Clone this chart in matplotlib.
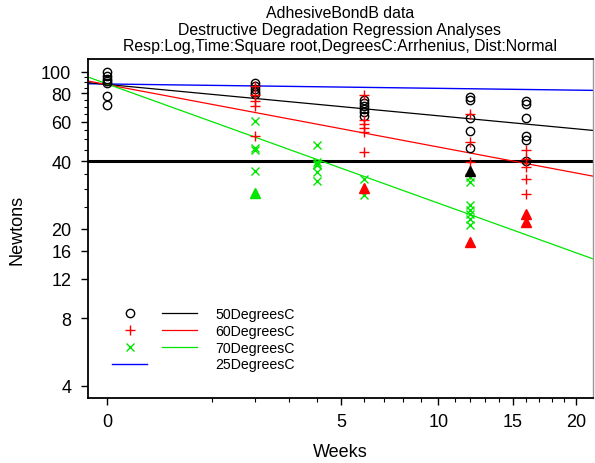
import numpy as np
import matplotlib
matplotlib.use("Agg")
import matplotlib.pyplot as plt
from matplotlib.lines import Line2D
from matplotlib.legend_handler import HandlerTuple

plt.rcParams["font.family"] = ["Liberation Sans", "DejaVu Sans"]

# axis range (weeks on square-root scale, newtons on log scale)
X_RANGE = [-0.033, 21.5]
Y_RANGE = [3.535, 113.9]

# week-0 measurements (plotted with the 50C circles)
weeks_50 = [0] * 7 + [2] * 5 + [6] * 6 + [12] * 5 + [16] * 6
newtons_50 = [100, 95.5, 92.5, 90.5, 89, 78, 71,
              89.5, 86.3, 83.8, 81.3, 79.6,
              74.8, 72.6, 70.4, 68.3, 66.2, 63.6,
              76.8, 74.5, 62.3, 54.5, 45.8,
              74.1, 71.9, 62.3, 51.8, 49.7, 39.9]

weeks_60 = [2] * 5 + [6] * 6 + [12] * 4 + [16] * 5
newtons_60 = [86.8, 78.8, 74.0, 70.5, 51.8,
              78.8, 61.0, 58.6, 56.2, 54.0, 44.0,
              64.9, 48.7, 39.7, 35.1,
              44.9, 40.9, 37.7, 33.4, 28.6]

weeks_70 = [2] * 4 + [4] * 6 + [6] * 2 + [12] * 7
newtons_70 = [60.4, 45.8, 44.8, 36.2,
              47.4, 39.8, 39.0, 38.5, 35.7, 32.8,
              33.4, 28.3,
              34.0, 32.3, 25.4, 24.3, 23.3, 22.1, 20.8]

# filled triangles
tri_weeks_50 = [12]
tri_newtons_50 = [36.0]
tri_weeks_60 = [6, 12, 16, 16]
tri_newtons_60 = [30.3, 17.4, 23.3, 21.5]
tri_weeks_70 = [2]
tri_newtons_70 = [28.9]

# fitted lines, values at the two ends of the x range
fit_50 = [89.4, 54.8]
fit_60 = [90.9, 34.3]
fit_70 = [94.7, 14.7]
fit_25 = [88.4, 82.6]

x_major = [0, 5, 10, 15, 20]
x_minor = [1, 2, 3, 4, 6, 7, 8, 9, 11, 12, 13, 14, 16, 17, 18, 19]
y_major = [4, 8, 12, 16, 20, 40, 60, 80, 100]
y_minor = [25, 30, 35, 45, 50, 55, 65, 70, 75, 85, 90, 95]

BLACK = "#000000"
RED = "#ff0000"
GREEN = "#00e600"
BLUE = "#0000ff"


def fwd(x):
    x = np.asarray(x, dtype=float)
    return np.sign(x) * np.sqrt(np.abs(x))


def inv(y):
    y = np.asarray(y, dtype=float)
    return np.sign(y) * y ** 2


fig = plt.figure(figsize=(5.95, 4.64), dpi=100)
ax = fig.add_axes([88 / 595, 1 - 399 / 464, 505 / 595, 339 / 464])
ax.set_xscale("function", functions=(fwd, inv))
ax.set_yscale("log")

ax.axhline(40, color="black", lw=2.2, zorder=1)
ax.plot(X_RANGE, fit_25, color=BLUE, lw=1.0, zorder=2)
ax.plot(X_RANGE, fit_50, color=BLACK, lw=0.9, zorder=2)
ax.plot(X_RANGE, fit_60, color=RED, lw=0.9, zorder=2)
ax.plot(X_RANGE, fit_70, color=GREEN, lw=0.9, zorder=2)

ax.plot(weeks_50, newtons_50, ls="none", marker="o", ms=6, mfc="none", mec=BLACK, mew=1.0, zorder=3)
ax.plot(weeks_60, newtons_60, ls="none", marker="+", ms=7, mec=RED, mew=1.0, zorder=3)
ax.plot(weeks_70, newtons_70, ls="none", marker="x", ms=6, mec=GREEN, mew=1.0, zorder=3)
ax.plot(tri_weeks_50, tri_newtons_50, ls="none", marker="^", ms=7.5, color=BLACK, zorder=4)
ax.plot(tri_weeks_60, tri_newtons_60, ls="none", marker="^", ms=7.5, color=RED, zorder=4)
ax.plot(tri_weeks_70, tri_newtons_70, ls="none", marker="^", ms=7.5, color=GREEN, zorder=4)

ax.set_xlim(X_RANGE)
ax.set_ylim(Y_RANGE)
ax.set_xticks(x_major)
ax.set_xticklabels([str(v) for v in x_major])
ax.set_xticks(x_minor, minor=True)
ax.set_yticks(y_major)
ax.set_yticklabels([str(v) for v in y_major])
ax.set_yticks(y_minor, minor=True)
ax.yaxis.set_minor_formatter(matplotlib.ticker.NullFormatter())
ax.tick_params(axis="both", which="major", length=5, width=1.0, labelsize=13, direction="out")
ax.tick_params(axis="both", which="minor", length=3, width=0.8, direction="out")
ax.tick_params(axis="x", pad=6)
ax.tick_params(axis="y", pad=7)

for side in ["left", "bottom", "top"]:
    ax.spines[side].set_linewidth(1.3)
    ax.spines[side].set_color("black")
ax.spines["right"].set_color("#999999")
ax.spines["right"].set_linewidth(1.0)

ax.set_xlabel("Weeks", fontsize=13, labelpad=9)
ax.set_ylabel("Newtons", fontsize=13, labelpad=11)

titles = ["AdhesiveBondB data",
          "Destructive Degradation Regression Analyses",
          "Resp:Log,Time:Square root,DegreesC:Arrhenius, Dist:Normal"]
for i, line in enumerate(titles):
    fig.text(340 / 595, 1 - (13 + 17 * i) / 464, line, ha="center", va="center", fontsize=11.4)

h_o = Line2D([], [], ls="none", marker="o", ms=6, mfc="none", mec=BLACK, mew=1.0)
h_p = Line2D([], [], ls="none", marker="+", ms=7, mec=RED, mew=1.0)
h_x = Line2D([], [], ls="none", marker="x", ms=6, mec=GREEN, mew=1.0)
l_50 = Line2D([], [], color=BLACK, lw=0.9)
l_60 = Line2D([], [], color=RED, lw=0.9)
l_70 = Line2D([], [], color=GREEN, lw=0.9)
l_25 = Line2D([], [], color=BLUE, lw=1.0)
empty = Line2D([], [], ls="none")
fig.legend([(h_o, l_50), (h_p, l_60), (h_x, l_70), (l_25, empty)],
           ["50DegreesC", "60DegreesC", "70DegreesC", "25DegreesC"],
           handler_map={tuple: HandlerTuple(ndivide=None, pad=1.0)},
           loc="upper left", bbox_to_anchor=(112 / 595, 1 - 308 / 464),
           frameon=False, fontsize=10.2, handlelength=6.0, handletextpad=1.3,
           labelspacing=0.2, borderpad=0, borderaxespad=0)

fig.savefig("out.png", dpi=100)
